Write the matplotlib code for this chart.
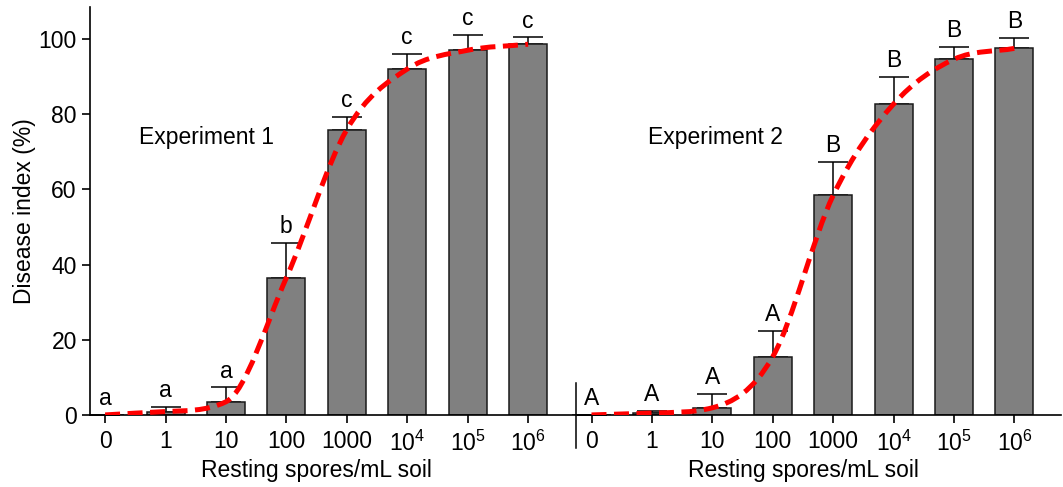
import matplotlib
matplotlib.use("Agg")
import matplotlib.pyplot as plt
import numpy as np
from matplotlib.path import Path
from matplotlib.patches import PathPatch

plt.rcParams['font.family'] = ['Liberation Sans', 'DejaVu Sans']
plt.rcParams['mathtext.fontset'] = 'custom'
plt.rcParams['mathtext.rm'] = 'Liberation Sans'
plt.rcParams['mathtext.it'] = 'Liberation Sans'

# Datos
etiquetas = ['0', '1', '10', '100', '1000', '$\\mathregular{10^4}$', '$\\mathregular{10^5}$', '$\\mathregular{10^6}$']
exp1_media = [0.0, 0.9, 3.5, 36.5, 75.9, 92.0, 97.0, 98.6]
exp1_error = [0.0, 1.2, 3.8, 9.2, 3.3, 4.1, 4.1, 1.8]
exp1_letras = ['a', 'a', 'a', 'b', 'c', 'c', 'c', 'c']
exp2_media = [0.0, 0.5, 1.9, 15.5, 58.4, 82.7, 94.6, 97.5]
exp2_error = [0.0, 0.6, 3.7, 6.8, 8.8, 7.1, 3.2, 2.7]
exp2_letras = ['A', 'A', 'A', 'A', 'B', 'B', 'B', 'B']

x1 = np.arange(8)
x2 = np.arange(8) + 8.05

tam = 16.5


def curva_suave(x, y):
    # Curva monotona (Fritsch-Carlson) dibujada con segmentos Bezier
    x = np.asarray(x, float)
    y = np.asarray(y, float)
    h = np.diff(x)
    d = np.diff(y) / h
    m = np.zeros_like(y)
    m[1:-1] = (d[:-1] + d[1:]) / 2
    m[0] = d[0]
    m[-1] = d[-1]
    for i in range(len(d)):
        if d[i] == 0:
            m[i] = m[i + 1] = 0
        else:
            a = m[i] / d[i]
            b = m[i + 1] / d[i]
            s = a * a + b * b
            if s > 9:
                t = 3 / np.sqrt(s)
                m[i] = t * a * d[i]
                m[i + 1] = t * b * d[i]
    verts = [(x[0], y[0])]
    codes = [Path.MOVETO]
    for i in range(len(h)):
        verts += [(x[i] + h[i] / 3, y[i] + m[i] * h[i] / 3),
                  (x[i + 1] - h[i] / 3, y[i + 1] - m[i + 1] * h[i] / 3),
                  (x[i + 1], y[i + 1])]
        codes += [Path.CURVE4] * 3
    return Path(verts, codes)


fig = plt.figure(figsize=(10.63, 4.87), dpi=100)
ax = fig.add_axes([0.0847, 0.148, 0.9134, 0.8376])

for xs, medias, errores, letras in [(x1, exp1_media, exp1_error, exp1_letras),
                                    (x2, exp2_media, exp2_error, exp2_letras)]:
    ax.bar(xs, medias, width=0.63, color='#808080', edgecolor='#1a1a1a', linewidth=1.1, zorder=2)
    ax.errorbar(xs, medias, yerr=[np.zeros(8), errores], fmt='none', ecolor='black',
                elinewidth=1.1, capsize=10.5, capthick=1.1, zorder=1)
    for xi, m, e, l in zip(xs, medias, errores, letras):
        ax.text(xi, m + e + 1.3, l, ha='center', va='bottom', fontsize=tam)
    ax.add_patch(PathPatch(curva_suave(xs, medias), fill=False, edgecolor='#ff0000',
                           linewidth=3.6, linestyle=(0, (3, 1.5)), zorder=3))

ax.set_xlim(-0.25, 15.82)
ax.set_ylim(0, 108.5)
ax.set_xticks(list(x1) + list(x2))
ax.set_xticklabels(etiquetas + etiquetas, fontsize=tam)
ax.set_yticks([0, 20, 40, 60, 80, 100])
ax.tick_params(axis='y', labelsize=tam, length=6, width=1.2)
ax.tick_params(axis='x', length=6, width=1.2, pad=5)
ax.spines['top'].set_visible(False)
ax.spines['right'].set_visible(False)
ax.spines['left'].set_linewidth(1.2)
ax.spines['bottom'].set_linewidth(1.2)

# separador entre experimentos
ax.plot([7.8, 7.8], [8.5, -8.8], color='black', linewidth=1.1, clip_on=False)

ax.text(1.68, 73.7, 'Experiment 1', ha='center', va='center', fontsize=tam)
ax.text(10.1, 73.7, 'Experiment 2', ha='center', va='center', fontsize=tam)

ax.set_ylabel('Disease index (%)', fontsize=tam, labelpad=2)
fig.text((105.3 + 528) / 2 / 1063, 1 - 471 / 487, 'Resting spores/mL soil', ha='center', va='center', fontsize=tam)
fig.text((592 + 1014) / 2 / 1063, 1 - 471 / 487, 'Resting spores/mL soil', ha='center', va='center', fontsize=tam)

plt.savefig('out.png', dpi=100)
